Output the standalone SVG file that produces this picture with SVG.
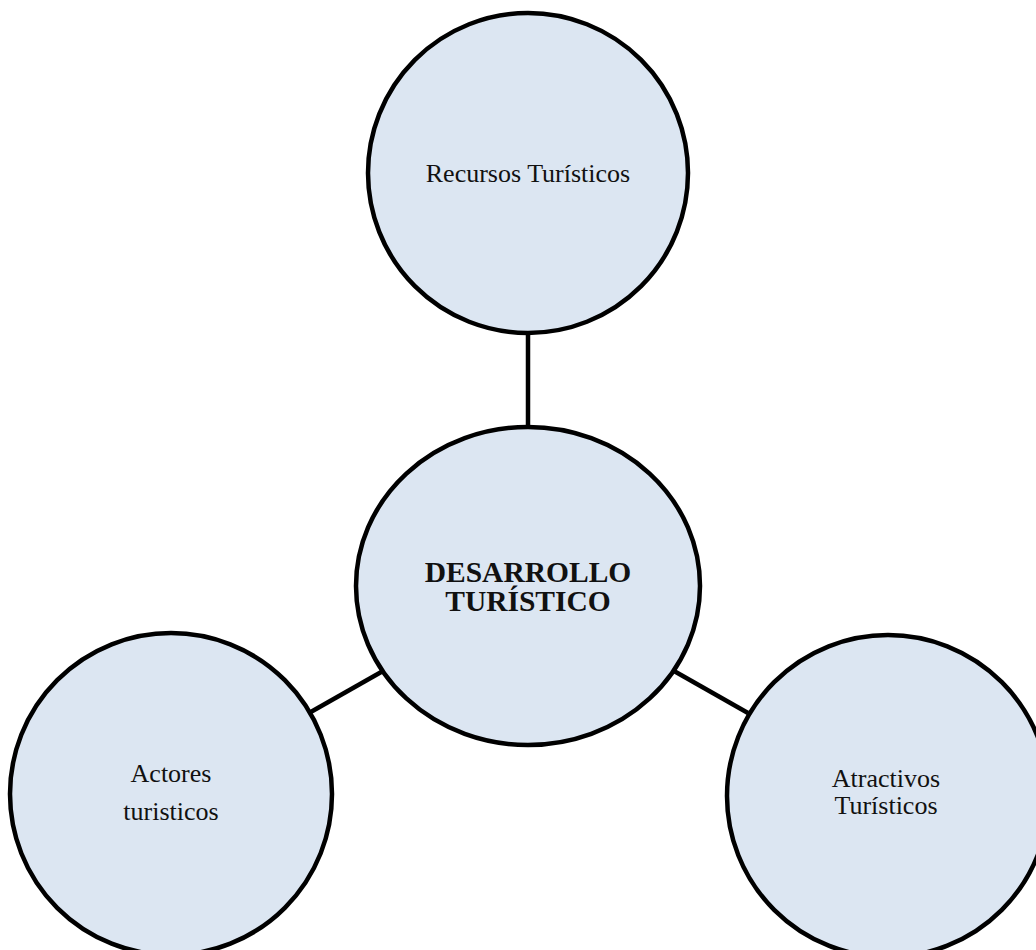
<svg xmlns="http://www.w3.org/2000/svg" width="1036" height="950" viewBox="0 0 1036 950">
<style>
.node{fill:#dce6f2;stroke:#000;stroke-width:4.5}
.conn{stroke:#000;stroke-width:4.5;fill:none}
.t{font-family:"Liberation Serif","Times New Roman",serif;font-size:26px;fill:#111;text-anchor:middle}
.b{font-weight:bold;font-size:29.5px}
</style>
<rect width="1036" height="950" fill="#fff"/>
<g id="connectors">
<line class="conn" x1="528" y1="333" x2="528" y2="428"/>
<line class="conn" x1="383" y1="671" x2="309" y2="713"/>
<line class="conn" x1="674" y1="671" x2="748" y2="713"/>
</g>
<g id="recursos">
<circle class="node" cx="528" cy="173" r="160"/>
<text class="t" x="528" y="182">Recursos Turísticos</text>
</g>
<g id="desarrollo">
<ellipse class="node" cx="528" cy="586" rx="172" ry="159"/>
<text class="t b" x="528" y="582">DESARROLLO</text>
<text class="t b" x="528" y="611">TURÍSTICO</text>
</g>
<g id="actores">
<circle class="node" cx="171" cy="794" r="161"/>
<text class="t" x="171" y="782">Actores</text>
<text class="t" x="171" y="820">turisticos</text>
</g>
<g id="atractivos">
<circle class="node" cx="888" cy="796" r="161"/>
<text class="t" x="886" y="787">Atractivos</text>
<text class="t" x="886" y="814">Turísticos</text>
</g>
</svg>
